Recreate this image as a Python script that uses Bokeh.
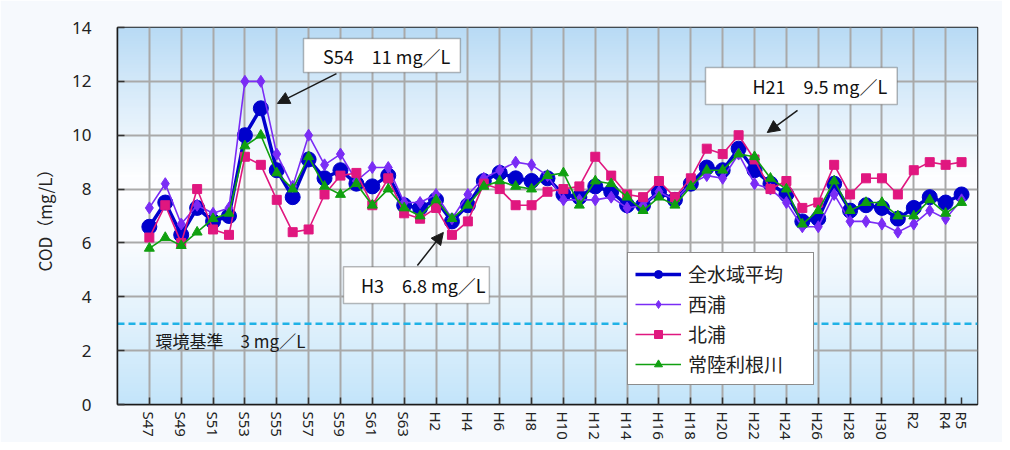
import numpy as np
from bokeh.plotting import figure
from bokeh.models import (FixedTicker, Range1d, Label, BoxAnnotation, Arrow,
                          NormalHead, Span)
from bokeh.embed import file_html
from bokeh.resources import INLINE

# ---------------- data ----------------
years = ["S47", "S48", "S49", "S50", "S51", "S52", "S53", "S54", "S55", "S56",
         "S57", "S58", "S59", "S60", "S61", "S62", "S63",
         "H1", "H2", "H3", "H4", "H5", "H6", "H7", "H8", "H9", "H10",
         "H11", "H12", "H13", "H14", "H15", "H16", "H17", "H18", "H19", "H20",
         "H21", "H22", "H23", "H24", "H25", "H26", "H27", "H28", "H29", "H30",
         "R1", "R2", "R3", "R4", "R5"]

avg_all = [6.6, 7.5, 6.3, 7.3, 6.8, 7.0, 10.0, 11.0, 8.7, 7.7,
           9.1, 8.4, 8.7, 8.2, 8.1, 8.5, 7.4,
           7.3, 7.6, 6.8, 7.4, 8.3, 8.6, 8.4, 8.3, 8.4, 7.8,
           7.7, 8.1, 7.9, 7.4, 7.4, 7.9, 7.6, 8.2, 8.8, 8.7,
           9.5, 8.7, 8.2, 7.8, 6.8, 6.9, 8.2, 7.2, 7.4, 7.3,
           6.9, 7.3, 7.7, 7.5, 7.8]

nishiura = [7.3, 8.2, 6.7, 7.4, 7.1, 7.3, 12.0, 12.0, 9.3, 8.1,
            10.0, 8.9, 9.3, 8.3, 8.8, 8.8, 7.5,
            7.5, 7.8, 6.9, 7.8, 8.4, 8.7, 9.0, 8.9, 8.5, 7.6,
            7.6, 7.6, 7.7, 7.3, 7.4, 7.9, 7.6, 8.2, 8.5, 8.4,
            9.3, 8.2, 8.0, 7.5, 6.6, 6.6, 7.8, 6.8, 6.8, 6.7,
            6.4, 6.7, 7.2, 6.9, 7.6]

kitaura = [6.2, 7.4, 6.0, 8.0, 6.5, 6.3, 9.2, 8.9, 7.6, 6.4,
           6.5, 7.8, 8.5, 8.6, 7.4, 8.4, 7.1,
           6.9, 7.3, 6.3, 6.8, 8.2, 8.0, 7.4, 7.4, 7.9, 8.0,
           8.1, 9.2, 8.5, 7.8, 7.7, 8.3, 7.7, 8.4, 9.5, 9.3,
           10.0, 9.1, 8.0, 8.3, 7.3, 7.5, 8.9, 7.8, 8.4, 8.4,
           7.8, 8.7, 9.0, 8.9, 9.0]

hitachi_tone = [5.8, 6.2, 5.9, 6.4, 6.9, 7.1, 9.6, 10.0, 8.6, 8.0,
                9.2, 8.1, 7.8, 8.2, 7.4, 8.0, 7.3,
                7.0, 7.6, 6.9, 7.4, 8.1, 8.3, 8.1, 8.0, 8.5, 8.6,
                7.4, 8.3, 8.2, 7.7, 7.2, 7.7, 7.4, 8.1, 8.7, 8.7,
                9.3, 9.2, 8.4, 8.0, 6.7, 7.2, 8.3, 7.2, 7.5, 7.5,
                7.0, 7.0, 7.6, 7.1, 7.5]

series_names = ["全水域平均", "西浦", "北浦", "常陸利根川"]
env_standard = 3.0

y_ticks = [0, 2, 4, 6, 8, 10, 12, 14]

# ---------------- figure ----------------
x = list(range(len(years)))
label_idx = [i for i in x if i % 2 == 0] + [len(years) - 1]

JP = "Noto Sans CJK JP"
LAT = "Noto Sans"

p = figure(frame_width=860, frame_height=377,
           x_range=Range1d(-2, len(years)), y_range=Range1d(0, 14),
           output_backend="svg", toolbar_location=None,
           min_border_left=117, min_border_top=27, min_border_right=25,
           min_border_bottom=38,
           background_fill_color="#eaf5fd", border_fill_color="#f6f9fd",
           outline_line_color="#1a1a1a", outline_line_width=1.5)

# vertical gradient background of the plot area (decoration)
stops_y = [0, 3, 6, 8.5, 11, 14]
stops_r = [196, 224, 250, 253, 224, 185]
stops_g = [229, 241, 252, 254, 239, 219]
stops_b = [250, 252, 255, 255, 251, 245]
yy = np.linspace(0, 14, 141)
img = np.empty((len(yy), 1), dtype=np.uint32)
view = img.view(dtype=np.uint8).reshape((len(yy), 1, 4))
view[:, 0, 0] = np.interp(yy, stops_y, stops_r).astype(np.uint8)
view[:, 0, 1] = np.interp(yy, stops_y, stops_g).astype(np.uint8)
view[:, 0, 2] = np.interp(yy, stops_y, stops_b).astype(np.uint8)
view[:, 0, 3] = 255
p.image_rgba(image=[img], x=-2, y=0, dw=len(years) + 2, dh=14, level="image")

# axes
p.xaxis.ticker = FixedTicker(ticks=label_idx)
p.xaxis.major_label_overrides = {i: years[i] for i in label_idx}
p.xaxis.major_label_orientation = "vertical"
p.xaxis.major_label_text_font = LAT
p.xaxis.major_label_text_font_size = "15px"
p.xaxis.major_label_text_color = "#222222"
p.xaxis.major_label_standoff = 7
p.yaxis.ticker = FixedTicker(ticks=y_ticks)
p.yaxis.major_label_text_font = LAT
p.yaxis.major_label_text_font_size = "17px"
p.yaxis.major_label_text_color = "#222222"
p.yaxis.major_label_standoff = 26
p.yaxis.axis_label = "COD（mg/L）"
p.yaxis.axis_label_text_font = JP
p.yaxis.axis_label_text_font_size = "17px"
p.yaxis.axis_label_text_font_style = "normal"
p.yaxis.axis_label_text_color = "#222222"
p.yaxis.axis_label_standoff = 12
for ax in (p.xaxis, p.yaxis):
    ax.major_tick_in = 7
    ax.major_tick_out = 0
    ax.minor_tick_line_color = None
    ax.major_tick_line_color = "#333333"
    ax.major_tick_line_width = 1.5
    ax.axis_line_color = "#1a1a1a"
    ax.axis_line_width = 1.5

p.xgrid.ticker = FixedTicker(ticks=[i for i in x if i % 2 == 0])
p.ygrid.ticker = FixedTicker(ticks=y_ticks)
for g in (p.xgrid, p.ygrid):
    g.grid_line_color = "#a9a9a9"
    g.grid_line_width = 2

# environmental standard line
std = Span(location=env_standard, dimension="width", line_color="#1fb2e6",
           line_width=2.5, line_dash="7 4", level="underlay")
p.add_layout(std)

# series
C_AVG, C_NISHI, C_KITA, C_TONE = "#0000cc", "#7a2cf5", "#e0177f", "#10a010"
p.line(x, avg_all, line_color=C_AVG, line_width=3.5, legend_label=series_names[0])
p.scatter(x, avg_all, marker="circle", size=15, fill_color=C_AVG,
          line_color=C_AVG, legend_label=series_names[0])
p.line(x, nishiura, line_color=C_NISHI, line_width=1.6, legend_label=series_names[1])
p.scatter(x, nishiura, marker="diamond", size=12, fill_color=C_NISHI,
          line_color=C_NISHI, legend_label=series_names[1])
p.line(x, kitaura, line_color=C_KITA, line_width=1.6, legend_label=series_names[2])
p.scatter(x, kitaura, marker="square", size=9, fill_color=C_KITA,
          line_color=C_KITA, legend_label=series_names[2])
p.line(x, hitachi_tone, line_color=C_TONE, line_width=1.6, legend_label=series_names[3])
p.scatter(x, hitachi_tone, marker="triangle", size=10, fill_color=C_TONE,
          line_color=C_TONE, legend_label=series_names[3])

lg = p.legend[0]
lg.location = (510, 19)
lg.label_text_font = JP
lg.label_text_font_size = "19px"
lg.label_text_color = "#222222"
lg.glyph_width = 46
lg.glyph_height = 20
lg.label_height = 20
lg.label_width = 118
lg.label_standoff = 7
lg.spacing = 3
lg.padding = 7
lg.margin = 0
lg.border_line_color = "#1a1a1a"
lg.border_line_width = 1.5
lg.background_fill_color = "white"
lg.background_fill_alpha = 1.0

# annotation boxes with arrows
i_s54 = years.index("S54")
i_h3 = years.index("H3")
i_h21 = years.index("H21")


def callout(text, left, right, bottom, top, tx, ty, tail, head):
    box = BoxAnnotation(left=left, right=right, bottom=bottom, top=top,
                        fill_color="white", fill_alpha=1.0,
                        line_color="#1a1a1a", line_width=1.5)
    p.add_layout(box)
    p.add_layout(Label(x=tx, y=ty, text=text, text_font=JP,
                       text_font_size="18px", text_color="#111111",
                       text_align="center", text_baseline="middle"))
    p.add_layout(Arrow(end=NormalHead(size=12, fill_color="#1a1a1a",
                                      line_color="#1a1a1a"),
                       x_start=tail[0], y_start=tail[1],
                       x_end=head[0], y_end=head[1],
                       line_color="#1a1a1a", line_width=1.5))


callout(f"{years[i_s54]}　{avg_all[i_s54]:g} mg／L", 9.68, 19.53, 12.33, 13.59,
        14.9, 12.96, (11.75, 12.29), (i_s54 + 1.04, 11.18))
callout(f"{years[i_h21]}　{avg_all[i_h21]:g} mg／L", 34.92, 46.96, 11.14, 12.51,
        42.1, 11.83, (40.7, 10.92), (i_h21 + 1.8, 10.1))
callout(f"{years[i_h3]}　{avg_all[i_h3]:g} mg／L", 12.19, 21.35, 3.75, 5.12,
        17.2, 4.44, (16.83, 5.16), (i_h3 - 0.54, 6.39))

p.add_layout(Label(x=0.39, y=2.36, text=f"環境基準　{env_standard:g} mg／L",
                   text_font=JP, text_font_size="17px", text_color="#1a1a1a",
                   text_align="left", text_baseline="middle"))

open("out.html", "w").write(file_html(p, INLINE))
